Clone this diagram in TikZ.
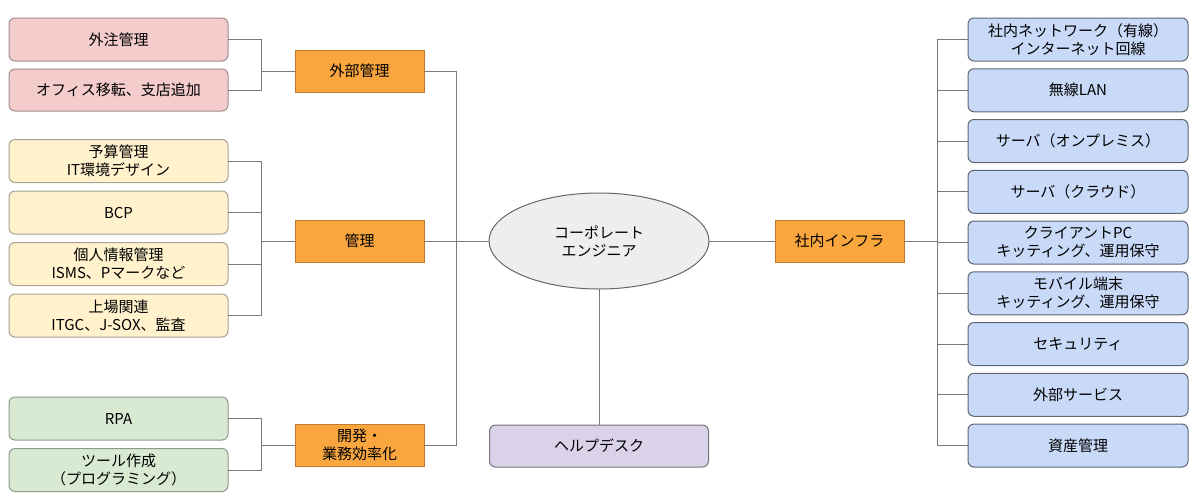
\documentclass[tikz,border=0pt]{standalone}
\usepackage{fontspec}
\newfontfamily\jpfont{Noto Sans CJK JP}
\usepackage{tikz}
\usetikzlibrary{shapes.geometric,positioning}

\definecolor{pinkfill}{HTML}{F4CCCC}
\definecolor{pinkline}{HTML}{A08C8E}
\definecolor{yellowfill}{HTML}{FFF2CC}
\definecolor{yellowline}{HTML}{A8A290}
\definecolor{greenfill}{HTML}{D9EAD3}
\definecolor{greenline}{HTML}{8E9C8C}
\definecolor{bluefill}{HTML}{C9DAF8}
\definecolor{blueline}{HTML}{5E6672}
\definecolor{purplefill}{HTML}{D9D2E9}
\definecolor{purpleline}{HTML}{77757E}
\definecolor{orangefill}{HTML}{F9A63F}
\definecolor{orangeline}{HTML}{BF7C30}
\definecolor{hubfill}{HTML}{EEEEEE}
\definecolor{hubline}{HTML}{666666}
\definecolor{linkgray}{HTML}{7A7A7A}

\begin{document}
\begin{tikzpicture}[x = 1pt, y = 1pt,
  every node/.style = {align = center, inner sep = 0pt, outer sep = 0pt, font = {\jpfont\fontsize{15}{18}\selectfont}},
  leaf/.style = {shape = rectangle, rounded corners = 6pt, minimum width = 219pt, minimum height = 43pt, inner ysep = -2pt, line width = 1pt},
  cat/.style = {shape = rectangle, fill = orangefill, draw = orangeline, minimum width = 129pt, minimum height = 42pt, inner ysep = -2pt, line width = 1pt},
  hub/.style = {shape = ellipse, fill = hubfill, draw = hubline, minimum width = 220pt, minimum height = 96pt, line width = 1pt},
  link/.style = {draw = linkgray, line width = 1pt}]
\useasboundingbox (0,0) rectangle (1200,-499);
\node[hub] (1) at (599,-241) {コーポレート\\エンジニア};
\node[cat, left = 65pt of 1] (2) {管理};
\node[cat, above = 128pt of 2] (3) {外部管理};
\node[cat, below = 162pt of 2] (4) {開発・\\業務効率化};
\node[cat, right = 66pt of 1] (5) {社内インフラ};
\node[leaf, fill = purplefill, draw = purpleline, minimum height = 42pt, below = 136pt of 1] (6) {ヘルプデスク};
\node[leaf, fill = pinkfill, draw = pinkline] (7) at (118.5,-39.5) {外注管理};
\node[leaf, fill = pinkfill, draw = pinkline, minimum height = 42pt, below = 8pt of 7] (8) {オフィス移転、支店追加};
\node[leaf, fill = yellowfill, draw = yellowline] (9) at (118.5,-161) {予算管理\\IT環境デザイン};
\node[leaf, fill = yellowfill, draw = yellowline, below = 8.5pt of 9] (10) {BCP};
\node[leaf, fill = yellowfill, draw = yellowline, below = 8.5pt of 10] (11) {個人情報管理\\ISMS、Pマークなど};
\node[leaf, fill = yellowfill, draw = yellowline, below = 8.5pt of 11] (12) {上場関連\\ITGC、J-SOX、監査};
\node[leaf, fill = greenfill, draw = greenline] (13) at (118.5,-418.5) {RPA};
\node[leaf, fill = greenfill, draw = greenline, below = 8.5pt of 13] (14) {ツール作成\\（プログラミング）};
\node[leaf, fill = bluefill, draw = blueline, minimum width = 220pt] (15) at (1078,-39.5) {社内ネットワーク（有線）\\インターネット回線};
\node[leaf, fill = bluefill, draw = blueline, minimum width = 220pt, below = 7.75pt of 15] (16) {無線LAN};
\node[leaf, fill = bluefill, draw = blueline, minimum width = 220pt, below = 7.75pt of 16] (17) {サーバ（オンプレミス）};
\node[leaf, fill = bluefill, draw = blueline, minimum width = 220pt, below = 7.75pt of 17] (18) {サーバ（クラウド）};
\node[leaf, fill = bluefill, draw = blueline, minimum width = 220pt, below = 7.75pt of 18] (19) {クライアントPC\\キッティング、運用保守};
\node[leaf, fill = bluefill, draw = blueline, minimum width = 220pt, below = 7.75pt of 19] (20) {モバイル端末\\キッティング、運用保守};
\node[leaf, fill = bluefill, draw = blueline, minimum width = 220pt, below = 7.75pt of 20] (21) {セキュリティ};
\node[leaf, fill = bluefill, draw = blueline, minimum width = 220pt, below = 7.75pt of 21] (22) {外部サービス};
\node[leaf, fill = bluefill, draw = blueline, minimum width = 220pt, below = 7.75pt of 22] (23) {資産管理};
\begin{scope}[link]
\draw (7.east) -- ++(33,0) |- (3.west);
\draw (8.east) -- ++(33,0) |- (3.west);
\draw (9.east) -- ++(33,0) |- (2.west);
\draw (10.east) -- ++(33,0) |- (2.west);
\draw (11.east) -- ++(33,0) |- (2.west);
\draw (12.east) -- ++(33,0) |- (2.west);
\draw (13.east) -- ++(33,0) |- (4.west);
\draw (14.east) -- ++(33,0) |- (4.west);
\draw (3.east) -- ++(32,0) |- (1.west);
\draw (4.east) -- ++(32,0) |- (1.west);
\draw (2.east) -- (1.west);
\draw (1.east) -- (5.west);
\draw (1.south) -- (6.north);
\draw (5.east) -- ++(33,0) |- (15.west);
\draw (5.east) -- ++(33,0) |- (16.west);
\draw (5.east) -- ++(33,0) |- (17.west);
\draw (5.east) -- ++(33,0) |- (18.west);
\draw (5.east) -- ++(33,0) |- (19.west);
\draw (5.east) -- ++(33,0) |- (20.west);
\draw (5.east) -- ++(33,0) |- (21.west);
\draw (5.east) -- ++(33,0) |- (22.west);
\draw (5.east) -- ++(33,0) |- (23.west);
\end{scope}
\end{tikzpicture}
\end{document}
